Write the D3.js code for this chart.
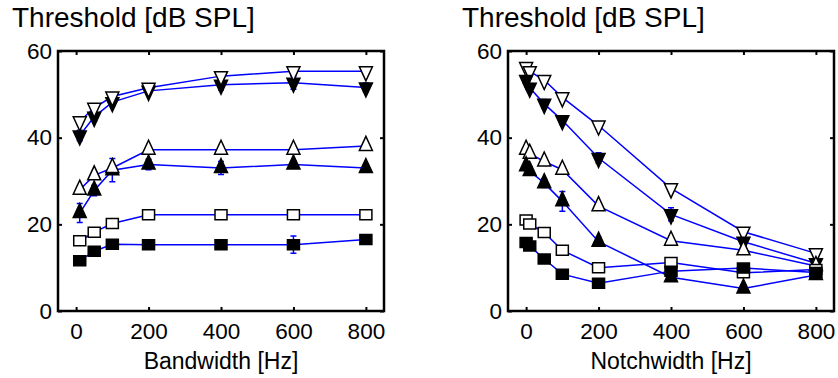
<!DOCTYPE html>
<html>
<head>
<meta charset="utf-8">
<script src="https://cdn.jsdelivr.net/npm/d3@7"></script>
<style>
    body { margin: 0; background: #fff; }
    svg { display: block; font-family: "Liberation Sans", Arial, sans-serif; }
</style>
</head>
<body>
<div class="graph"></div>
<script>
// x positions (Hz)
const bandwidths = [10, 50, 100, 200, 400, 600, 800];
const notchwidths = [0, 10, 50, 100, 200, 400, 600, 800];

// bandwidth panel, thresholds in dB SPL
const bwOpenDown = [43.8, 46.9, 49.5, 51.5, 54.2, 55.3, 55.3];
const bwFilledDown = [40.5, 44.8, 48.2, 50.8, 52.2, 52.7, 51.6];
const bwOpenUp = [28.0, 31.3, 33.0, 37.2, 37.2, 37.2, 38.1];
const bwFilledUp = [22.6, 27.8, 32.5, 33.8, 33.0, 33.8, 33.0];
const bwOpenSquare = [16.2, 18.2, 20.2, 22.2, 22.2, 22.2, 22.2];
const bwFilledSquare = [11.6, 13.8, 15.4, 15.3, 15.3, 15.3, 16.5];

// bandwidth panel, error bars
const bwOpenDownErr = [0.8, 0.8, 0.6, 0.6, 0.8, 0.8, 0.6];
const bwFilledDownErr = [1.2, 1.0, 0.8, 0.8, 1.2, 1.5, 1.0];
const bwOpenUpErr = [0.8, 0.8, 0.8, 0.6, 0.6, 0.6, 0.6];
const bwFilledUpErr = [2.2, 1.2, 2.7, 1.2, 1.5, 0.8, 0.8];
const bwOpenSquareErr = [0.5, 0.5, 0.5, 0.5, 0.5, 0.5, 0.5];
const bwFilledSquareErr = [0.6, 0.6, 0.6, 0.8, 0.6, 2.0, 0.6];

// notchwidth panel, thresholds in dB SPL
const nwOpenDown = [56.3, 55.3, 53.3, 49.3, 42.8, 28.3, 18.3, 13.3];
const nwFilledDown = [53.3, 51.5, 47.8, 44.0, 35.3, 22.3, 16.0, 11.0];
const nwOpenUp = [37.2, 36.3, 34.5, 32.6, 24.2, 16.2, 14.0, 10.4];
const nwFilledUp = [33.4, 32.3, 29.5, 25.3, 16.0, 7.8, 5.2, 8.3];
const nwOpenSquare = [21.0, 20.1, 18.1, 14.0, 10.0, 11.2, 8.8, 9.6];
const nwFilledSquare = [15.8, 15.0, 12.0, 8.5, 6.4, 9.2, 9.9, 8.9];

// notchwidth panel, error bars
const nwOpenDownErr = [0.8, 0.8, 0.8, 0.8, 0.8, 0.8, 0.8, 0.6];
const nwFilledDownErr = [1.0, 1.0, 1.0, 1.0, 1.2, 1.5, 1.0, 0.8];
const nwOpenUpErr = [0.8, 0.8, 0.8, 0.8, 0.8, 0.8, 0.8, 0.6];
const nwFilledUpErr = [1.0, 1.0, 1.0, 2.3, 1.0, 0.8, 0.8, 0.6];
const nwOpenSquareErr = [0.5, 0.5, 0.5, 0.5, 0.5, 0.5, 0.5, 0.5];
const nwFilledSquareErr = [0.5, 0.5, 0.5, 0.5, 0.5, 0.5, 0.5, 0.5];

// ticks and labels
const xTicks = [0, 200, 400, 600, 800];
const yTicks = [0, 20, 40, 60];
const yTitle = "Threshold [dB SPL]";
const bwLabel = "Bandwidth [Hz]";
const nwLabel = "Notchwidth [Hz]";

// dimensions
const WIDTH = 838;
const HEIGHT = 378;
const plotTop = 51;
const plotBottom = 311;
const plotWidth = 326;
const lineColour = "#0000ff";

// marker shapes, centred on the data point
const markers = {
    down: { path: "M-6.5,-4.5L6.5,-4.5L0,9.5Z" },
    up: { path: "M0,-9.5L6.5,4.5L-6.5,4.5Z" },
    square: { path: "M-6,-5L6,-5L6,5L-6,5Z" }
};

const svg = d3.select(".graph")
    .append("svg")
    .attr("width", WIDTH)
    .attr("height", HEIGHT);

function drawPanel(left, xValues, series, xLabel) {
    const x = d3.scaleLinear()
        .domain([-50, 850])
        .range([left, left + plotWidth]);

    const y = d3.scaleLinear()
        .domain([0, 60])
        .range([plotBottom, plotTop]);

    const g = svg.append("g");

    // ticks on all four sides, pointing inward
    g.append("g")
        .attr("transform", "translate(0," + plotBottom + ")")
        .call(d3.axisBottom(x).tickValues(xTicks).tickSize(-4).tickPadding(12));
    g.append("g")
        .attr("transform", "translate(0," + plotTop + ")")
        .call(d3.axisTop(x).tickValues(xTicks).tickSize(-4).tickFormat(""));
    g.append("g")
        .attr("transform", "translate(" + left + ",0)")
        .call(d3.axisLeft(y).tickValues(yTicks).tickSize(-4).tickPadding(6));
    g.append("g")
        .attr("transform", "translate(" + (left + plotWidth) + ",0)")
        .call(d3.axisRight(y).tickValues(yTicks).tickSize(-4).tickFormat(""));

    g.selectAll(".domain").remove();
    g.selectAll(".tick line").attr("stroke", "#000").attr("stroke-width", 2);
    g.selectAll(".tick text")
        .attr("fill", "#000")
        .style("font-size", "22.5px");

    // error bars first, so the markers sit on top
    series.forEach(function(s) {
        const bars = g.append("g");
        xValues.forEach(function(xv, i) {
            const cx = x(xv);
            const lo = y(s.values[i] - s.err[i]);
            const hi = y(s.values[i] + s.err[i]);
            bars.append("path")
                .attr("d", "M" + cx + "," + lo + "V" + hi +
                    "M" + (cx - 3) + "," + lo + "H" + (cx + 3) +
                    "M" + (cx - 3) + "," + hi + "H" + (cx + 3))
                .attr("stroke", lineColour)
                .attr("stroke-width", 1.5)
                .attr("fill", "none");
        });
    });

    const line = d3.line()
        .x(function(d) { return x(d[0]); })
        .y(function(d) { return y(d[1]); });

    series.forEach(function(s) {
        const pts = xValues.map(function(xv, i) { return [xv, s.values[i]]; });
        g.append("path")
            .datum(pts)
            .attr("d", line)
            .attr("fill", "none")
            .attr("stroke", lineColour)
            .attr("stroke-width", 1.5);
    });

    series.forEach(function(s) {
        const pts = xValues.map(function(xv, i) { return [xv, s.values[i]]; });
        g.append("g")
            .selectAll("path")
            .data(pts)
            .enter()
                .append("path")
                .attr("d", markers[s.shape].path)
                .attr("transform", function(d) { return "translate(" + x(d[0]) + "," + y(d[1]) + ")"; })
                .attr("fill", s.filled ? "#000" : "#fff")
                .attr("stroke", "#000")
                .attr("stroke-width", 1.5)
                .attr("stroke-linejoin", "miter");
    });

    // frame
    g.append("rect")
        .attr("x", left)
        .attr("y", plotTop)
        .attr("width", plotWidth)
        .attr("height", plotBottom - plotTop)
        .attr("fill", "none")
        .attr("stroke", "#000")
        .attr("stroke-width", 2.5);

    // title above the y axis
    g.append("text")
        .attr("x", left - 46)
        .attr("y", 27)
        .style("font-size", "28px")
        .attr("fill", "#000")
        .text(yTitle);

    // x axis label
    g.append("text")
        .attr("x", left + plotWidth / 2)
        .attr("y", 369)
        .attr("text-anchor", "middle")
        .style("font-size", "23px")
        .attr("fill", "#000")
        .text(xLabel);
}

drawPanel(58, bandwidths, [
    { shape: "square", filled: true, values: bwFilledSquare, err: bwFilledSquareErr },
    { shape: "square", filled: false, values: bwOpenSquare, err: bwOpenSquareErr },
    { shape: "up", filled: true, values: bwFilledUp, err: bwFilledUpErr },
    { shape: "up", filled: false, values: bwOpenUp, err: bwOpenUpErr },
    { shape: "down", filled: true, values: bwFilledDown, err: bwFilledDownErr },
    { shape: "down", filled: false, values: bwOpenDown, err: bwOpenDownErr }
], bwLabel);

drawPanel(508, notchwidths, [
    { shape: "down", filled: false, values: nwOpenDown, err: nwOpenDownErr },
    { shape: "down", filled: true, values: nwFilledDown, err: nwFilledDownErr },
    { shape: "up", filled: false, values: nwOpenUp, err: nwOpenUpErr },
    { shape: "up", filled: true, values: nwFilledUp, err: nwFilledUpErr },
    { shape: "square", filled: false, values: nwOpenSquare, err: nwOpenSquareErr },
    { shape: "square", filled: true, values: nwFilledSquare, err: nwFilledSquareErr }
], nwLabel);
</script>
</body>
</html>
